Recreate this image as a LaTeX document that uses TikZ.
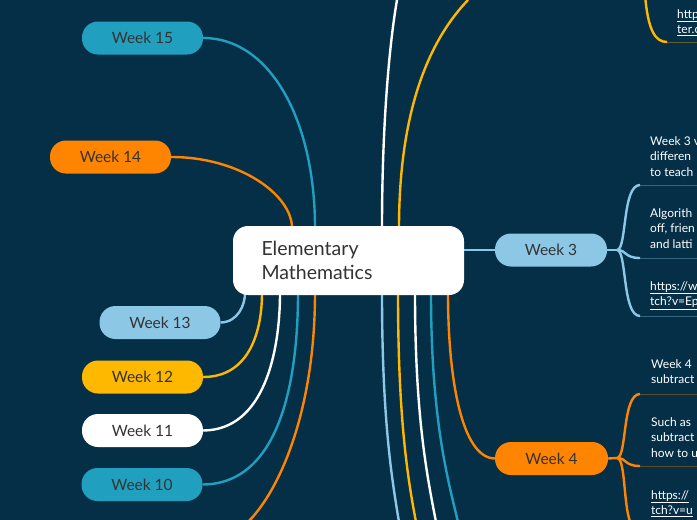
\documentclass[tikz,border=0pt]{standalone}
\usepackage{fontspec}
\setmainfont{Lato}
\definecolor{bg}{HTML}{052F47}
\definecolor{teal}{HTML}{20A0BE}
\definecolor{orng}{HTML}{FF8500}
\definecolor{lblue}{HTML}{8CC8E6}
\definecolor{yel}{HTML}{FFB800}
\definecolor{txt}{HTML}{333333}
\pgfdeclarelayer{bgl}
\pgfdeclarelayer{edges}
\pgfsetlayers{bgl,edges,main}
\tikzset{
  wk/.style={rounded corners=16pt,minimum width=121pt,minimum height=33pt,inner sep=0pt,text=txt,font=\fontsize{15.5}{18}\selectfont},
  ln/.style={line width=2.4pt},
  desc/.style={anchor=north west,align=left,text=white,inner sep=0pt,font=\fontsize{12}{15.5}\selectfont},
  ul/.style={line width=1pt,opacity=0.35}
}
\begin{document}
\begin{tikzpicture}[x=1pt,y=-1pt]
\begin{pgfonlayer}{bgl}
\fill[bg] (0,0) rectangle (697,520);
\end{pgfonlayer}
\useasboundingbox (0,0) rectangle (697,520);
\clip (0,0) rectangle (697,520);
% central
\node[fill=white,rounded corners=15pt,minimum width=231pt,minimum height=69pt,inner sep=0pt] (c) at (348.5,260.5) {};
\node[anchor=west,align=left,text=txt,font=\fontsize{19.5}{24.5}\selectfont] (ct) at (258,260.5) {Elementary\\Mathematics};
% left nodes
\node[wk,fill=teal] (w15) at (142.5,38) {Week 15};
\node[wk,fill=orng] (w14) at (110.5,157) {Week 14};
\node[wk,fill=lblue] (w13) at (160,322.5) {Week 13};
\node[wk,fill=yel] (w12) at (142.5,377) {Week 12};
\node[wk,fill=white] (w11) at (142.5,430.5) {Week 11};
\node[wk,fill=teal] (w10) at (142,484.5) {Week 10};
\node[wk,fill=lblue,minimum width=112pt] (w3) at (551,250) {Week 3};
\node[wk,fill=orng,minimum width=113pt] (w4) at (551.5,458.5) {Week 4};
% coordinates
\coordinate (t15) at (315,228); \coordinate (t14) at (292,228);
\coordinate (tw) at (382,228); \coordinate (ty) at (399,228);
\coordinate (b13) at (245,293); \coordinate (b12) at (262,293);
\coordinate (b11) at (280,293); \coordinate (b10) at (298,293);
\coordinate (bo) at (315,293);
\coordinate (rb) at (382,293); \coordinate (ry) at (398,293);
\coordinate (rw) at (415,293); \coordinate (rt) at (431,293);
\coordinate (r4) at (448,293);
\coordinate (e1) at (397,0); \coordinate (e2) at (468,0);
\coordinate (e3) at (248,522); \coordinate (e4) at (399,522);
\coordinate (e5) at (416,522); \coordinate (e6) at (436,522);
\coordinate (e7) at (458,522);
\coordinate (j3) at (617,250); \coordinate (j4) at (617,458);
\begin{pgfonlayer}{edges}
\draw[ln,teal] (w15.east) .. controls (270,38) and (315,120) .. (t15);
\draw[ln,orng] (w14.east) .. controls (240,157) and (292,195) .. (t14);
\draw[ln,lblue] (w13.east) .. controls (238,322) and (245,305) .. (b13);
\draw[ln,yel] (w12.east) .. controls (250,377) and (262,330) .. (b12);
\draw[ln,white] (w11.east) .. controls (265,430) and (280,350) .. (b11);
\draw[ln,teal] (w10.east) .. controls (280,484) and (298,380) .. (b10);
\draw[ln,orng] (bo) .. controls (315,410) and (280,490) .. (e3);
\draw[ln,white] (tw) .. controls (382,120) and (390,40) .. (e1);
\draw[ln,yel] (ty) .. controls (399,130) and (420,50) .. (e2);
\draw[ln,lblue] (rb) .. controls (382,420) and (392,480) .. (e4);
\draw[ln,yel] (ry) .. controls (398,420) and (408,480) .. (e5);
\draw[ln,white] (rw) .. controls (415,420) and (428,480) .. (e6);
\draw[ln,teal] (rt) .. controls (431,420) and (448,480) .. (e7);
\draw[ln,orng] (r4) .. controls (448,380) and (462,458) .. (w4.west);
\draw[ln,lblue] (c.east |- w3.west) -- (w3.west);
\draw[ln,lblue] (w3.east) -- (j3);
\draw[ln,lblue] (j3) .. controls (627,250) and (622,185) .. (640,185);
\draw[ln,lblue] (j3) .. controls (627,250) and (624,258) .. (640,258);
\draw[ln,lblue] (j3) .. controls (627,250) and (622,316) .. (640,316);
\draw[ul,lblue] (640,185) -- (697,185);
\draw[ul,lblue] (640,258) -- (697,258);
\draw[ul,lblue] (640,316) -- (697,316);
\draw[ln,orng] (w4.east) -- (j4);
\draw[ln,orng] (j4) .. controls (627,458) and (622,394) .. (640,394);
\draw[ln,orng] (j4) .. controls (627,458) and (624,466) .. (640,466);
\draw[ln,orng] (j4) .. controls (627,458) and (622,520) .. (635,530);
\draw[ul,orng] (640,394) -- (697,394);
\draw[ul,orng] (640,466) -- (697,466);
\draw[ln,yel] (645,-5) .. controls (648,30) and (655,42) .. (667,42);
\draw[ul,yel] (667,42) -- (697,42);
\end{pgfonlayer}
\node[desc] (d31) at (650,136) {Week 3 v\\differen\\to teach};
\node[desc] (d32) at (650,208) {Algorith\\off, frien\\and latti};
\node[desc] (d33) at (650,281) {\underline{https://w}\\\underline{tch?v=Ep}};
\node[desc] (d41) at (651,359) {Week 4\\subtract};
\node[desc] (d42) at (651,417) {Such as\\subtract\\how to u};
\node[desc] (d43) at (651,490) {\underline{https://}\\\underline{tch?v=u}};
\node[desc] (d1) at (677,9) {\underline{http}\\\underline{ter.c}};
\end{tikzpicture}
\end{document}
